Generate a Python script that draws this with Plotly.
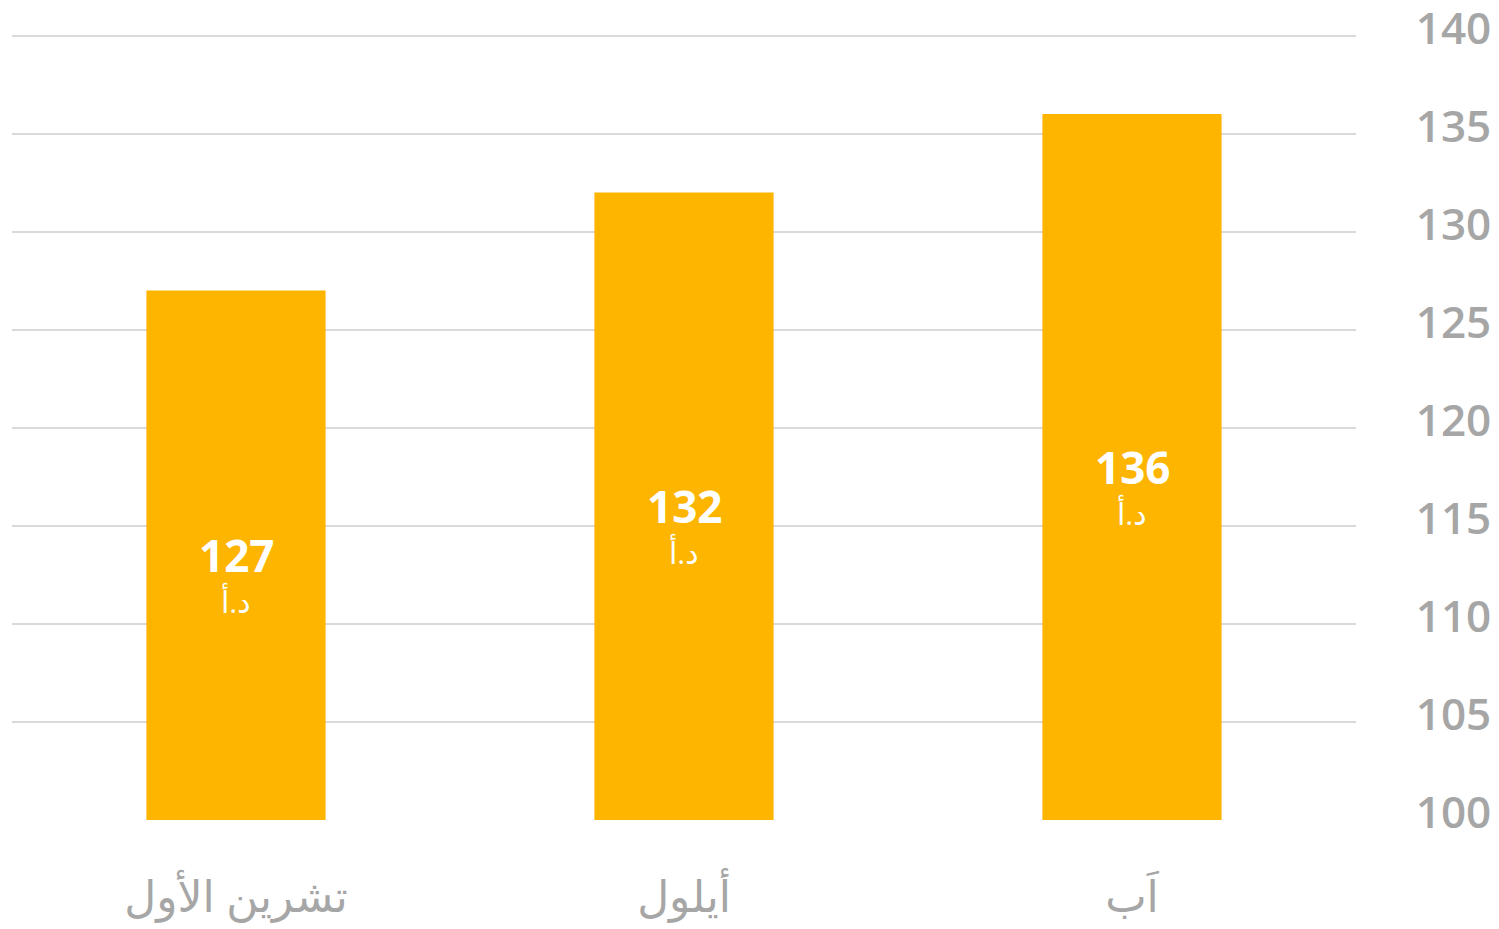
import plotly.graph_objects as go

categories = ["اَب", "أيلول", "تشرين الأول"]
values = [136, 132, 127]
unit = "د.أ"
y_ticks = [100, 105, 110, 115, 120, 125, 130, 135, 140]
base = 100

bar_color = "#FDB500"
grid_color = "#d9d9d9"
text_gray = "#a6a6a6"
font_family = "Open Sans, Noto Sans, DejaVu Sans, sans-serif"

fig = go.Figure()
fig.add_trace(go.Bar(
    x=categories,
    y=[v - base for v in values],
    base=base,
    marker=dict(color=bar_color, line=dict(width=0)),
    width=0.4,
    hoverinfo="skip",
))

for c, v in zip(categories, values):
    mid = (base + v) / 2
    fig.add_annotation(x=c, y=mid, text=f"<b>{v}</b>", showarrow=False,
                       font=dict(family=font_family, size=44, color="white"),
                       xanchor="center", yanchor="middle")
    fig.add_annotation(x=c, y=mid, text=unit, showarrow=False, yshift=-46,
                       font=dict(family=font_family, size=30, color="white"),
                       xanchor="center", yanchor="middle")

fig.update_layout(
    width=1491, height=921,
    margin=dict(l=4, r=143, t=26, b=109),
    paper_bgcolor="white", plot_bgcolor="white",
    showlegend=False,
    bargap=0.6,
    xaxis=dict(
        categoryorder="array", categoryarray=categories, autorange="reversed",
        showgrid=False, zeroline=False, showline=False, automargin=False,
        ticks="outside", ticklen=38, tickcolor="rgba(0,0,0,0)",
        tickfont=dict(family=font_family, size=44, color=text_gray),
    ),
    yaxis=dict(
        side="right", range=[100, 140.08], tickvals=y_ticks,
        showgrid=True, gridcolor=grid_color, gridwidth=2,
        zeroline=False, showline=False, automargin=False,
        ticks="outside", ticklen=50, tickcolor="rgba(0,0,0,0)",
        ticklabeloverflow="allow", ticklabelshift=-7,
        tickfont=dict(family=font_family, size=44, color=text_gray, weight=600),
    ),
)

fig.write_html("out.html")
